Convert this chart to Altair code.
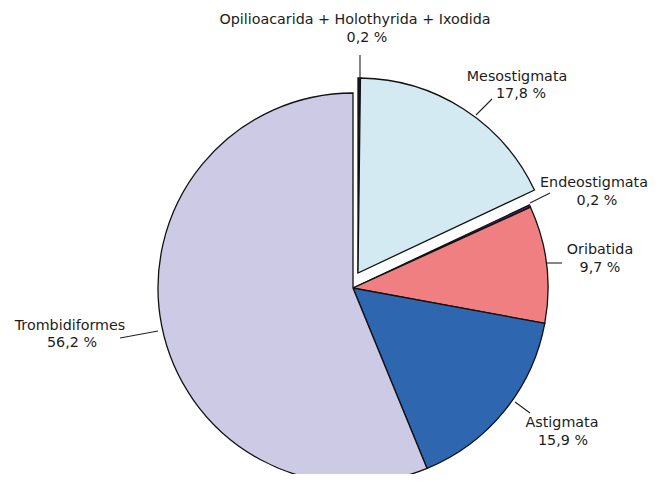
import altair as alt
import pandas as pd

# ---- data ----
categories = ["Opilioacarida + Holothyrida + Ixodida", "Mesostigmata", "Endeostigmata",
              "Oribatida", "Astigmata", "Trombidiformes"]
values = [0.2, 17.8, 0.2, 9.7, 15.9, 56.2]
value_labels = ["0,2 %", "17,8 %", "0,2 %", "9,7 %", "15,9 %", "56,2 %"]
exploded = [True, True, False, False, False, False]
colors = ["#1e1e1e", "#d4eaf2", "#5b2278", "#f07f81", "#2e66b0", "#cdcae5"]

# ---- layout (plot-area pixels) ----
W, H = 643, 466
CX, CY = 345, 280          # pie centre
R = 195                    # pie radius
EX, EY = 5, -15            # offset of the exploded slices
name_x = [347, 509, 586, 592, 554, 62]
name_y = [12, 69, 175, 242, 415, 318]
pct_x = [359, 513, 589, 592, 555, 64]
pct_y = [30, 86, 193, 260, 433, 335]
leader_x1 = [352, 468, 522, 539, 507, 112]
leader_y1 = [47, 107, 195, 255, 394, 330]
leader_x2 = [352, 484, 542, 554, 522, 150]
leader_y2 = [71, 91, 185, 255, 405, 323]

df = pd.DataFrame({
    "category": categories,
    "value": values,
    "exploded": exploded,
    "order": list(range(len(categories))),
})

lab = pd.DataFrame({
    "category": categories, "pct": value_labels,
    "nx": name_x, "ny": name_y, "px": pct_x, "py": pct_y,
    "x1": leader_x1, "y1": leader_y1, "x2": leader_x2, "y2": leader_y2,
})

color = alt.Color("category:N", scale=alt.Scale(domain=categories, range=colors), legend=None)
theta_scale = alt.Scale(domain=[0, 100], range=[0, 6.283185307179586])

base = alt.Chart(df).transform_window(
    cum="sum(value)", sort=[{"field": "order"}], frame=[None, 0]
).transform_calculate(start="datum.cum - datum.value")

def arcs(is_exp, cx, cy):
    return base.transform_filter(
        alt.datum.exploded == is_exp
    ).mark_arc(outerRadius=R, stroke="#111111", strokeWidth=1.3, strokeJoin="miter").encode(
        theta=alt.Theta("start:Q", scale=theta_scale),
        theta2="cum:Q",
        color=color,
        x=alt.value(cx),
        y=alt.value(cy),
    )

main = arcs(False, CX, CY)
expl = arcs(True, CX + EX, CY + EY)

leaders = alt.Chart(lab).mark_rule(color="#222222", strokeWidth=1.1).encode(
    x=alt.X("x1:Q", scale=None), y=alt.Y("y1:Q", scale=None),
    x2="x2:Q", y2="y2:Q",
)

txt_style = dict(font="DejaVu Sans", fontSize=14.3, color="#1c1c1c",
                 align="center", baseline="middle")

names = alt.Chart(lab).mark_text(**txt_style).encode(
    x=alt.X("nx:Q", scale=None), y=alt.Y("ny:Q", scale=None), text="category:N",
)
pcts = alt.Chart(lab).mark_text(**txt_style).encode(
    x=alt.X("px:Q", scale=None), y=alt.Y("py:Q", scale=None), text="pct:N",
)

chart = alt.layer(main, expl, leaders, names, pcts).properties(
    width=W, height=H, padding=0, autosize="none"
).configure_view(stroke=None)

chart.save("out.html", embed_options={"renderer": "svg", "actions": False})
